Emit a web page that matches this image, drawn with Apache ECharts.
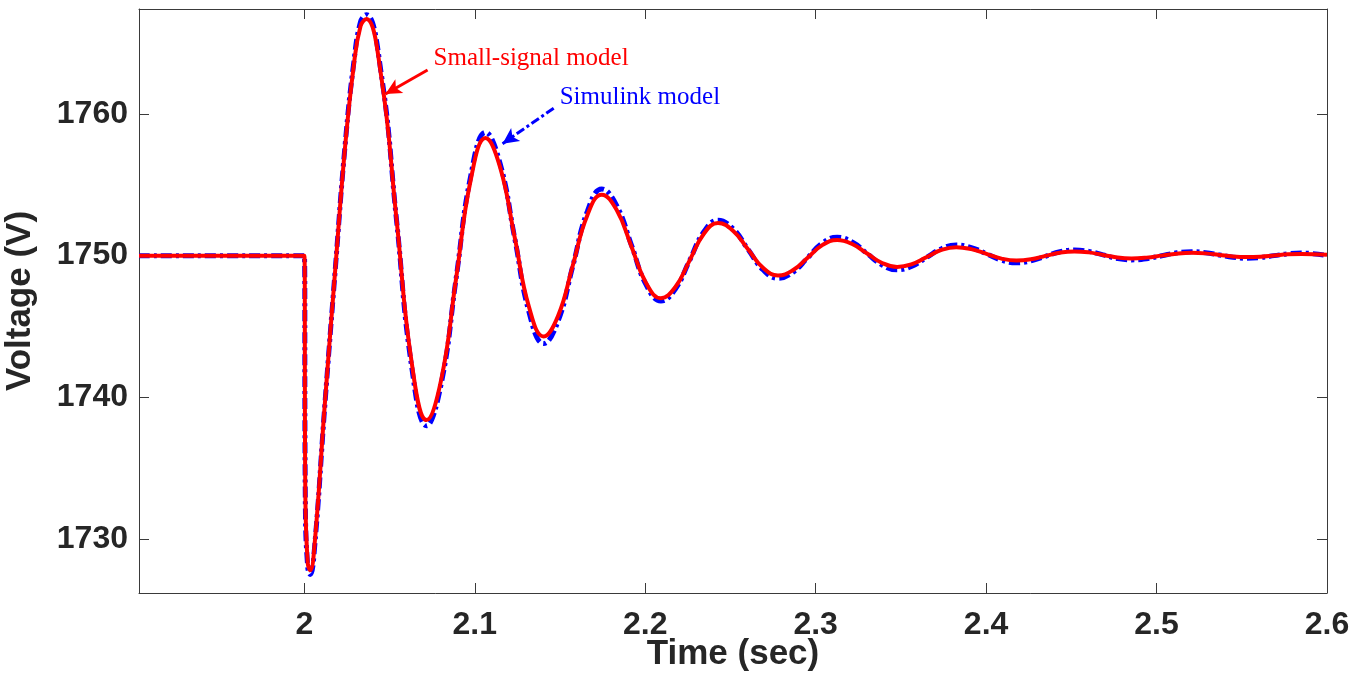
<!DOCTYPE html>
<html>
<head>
<meta charset="utf-8">
<script src="https://cdn.jsdelivr.net/npm/echarts@6/dist/echarts.min.js"></script>
<style>
html,body{margin:0;padding:0;background:#fff;}
#chart{width:1367px;height:675px;}
</style>
</head>
<body>
<div id="chart"></div>
<script>
// ---- data ----
const time = [
1.903, 2.0, 2.0006, 2.0020, 2.0035, 2.006, 2.012, 2.018, 2.024, 2.029, 2.033, 2.0364,
2.0452, 2.0541, 2.0629, 2.0717,
2.0804, 2.0890, 2.0977, 2.1063,
2.1148, 2.1234, 2.1319, 2.1404,
2.1489, 2.1575, 2.1660, 2.1745,
2.1832, 2.1919, 2.2005, 2.2092,
2.2176, 2.2260, 2.2343, 2.2427,
2.2515, 2.2603, 2.2691, 2.2779,
2.2866, 2.2953, 2.3039, 2.3126,
2.3214, 2.3302, 2.3390, 2.3478,
2.3565, 2.3652, 2.3738, 2.3825,
2.3913, 2.4002, 2.4090, 2.4178,
2.4263, 2.4348, 2.4433, 2.4518,
2.4602, 2.4686, 2.4769, 2.4853,
2.4941, 2.5030, 2.5118, 2.5206,
2.5287, 2.5368, 2.5449, 2.5530,
2.5610, 2.5690, 2.5770, 2.5850,
2.6
];
const smallSignal = [
1750, 1750, 1733.0, 1728.3, 1727.8, 1729.6, 1739.5, 1748.8, 1757.8, 1763.4, 1766.2, 1766.7,
1762.57, 1752.55, 1742.53, 1738.4,
1741.31, 1748.35, 1755.39, 1758.3,
1756.26, 1751.3, 1746.34, 1744.3,
1745.76, 1749.3, 1752.84, 1754.3,
1753.23, 1750.65, 1748.07, 1747.0,
1747.77, 1749.65, 1751.53, 1752.3,
1751.76, 1750.45, 1749.14, 1748.6,
1748.97, 1749.85, 1750.74, 1751.1,
1750.82, 1750.15, 1749.48, 1749.2,
1749.40, 1749.9, 1750.40, 1750.6,
1750.46, 1750.13, 1749.79, 1749.65,
1749.74, 1749.98, 1750.21, 1750.3,
1750.23, 1750.05, 1749.87, 1749.8,
1749.86, 1750.0, 1750.14, 1750.2,
1750.16, 1750.05, 1749.94, 1749.9,
1749.93, 1750.01, 1750.09, 1750.12,
1750.06
];
const simulink = [
1750, 1750, 1732.5, 1728.0, 1727.5, 1729.4, 1739.4, 1748.8, 1757.9, 1763.6, 1766.5, 1767.0,
1762.77, 1752.5, 1742.23, 1738.0,
1741.02, 1748.35, 1755.68, 1758.7,
1756.52, 1751.25, 1745.98, 1743.8,
1745.39, 1749.25, 1753.11, 1754.7,
1753.55, 1750.75, 1747.95, 1746.8,
1747.63, 1749.65, 1751.67, 1752.5,
1751.9, 1750.45, 1749.0, 1748.4,
1748.82, 1749.85, 1750.88, 1751.3,
1750.96, 1750.15, 1749.34, 1749.0,
1749.26, 1749.88, 1750.49, 1750.75,
1750.57, 1750.13, 1749.68, 1749.5,
1749.63, 1749.95, 1750.27, 1750.4,
1750.3, 1750.05, 1749.8, 1749.7,
1749.78, 1749.99, 1750.2, 1750.28,
1750.21, 1750.05, 1749.89, 1749.82,
1749.87, 1750.0, 1750.13, 1750.18,
1750.0
];
const xTicks = [2, 2.1, 2.2, 2.3, 2.4, 2.5, 2.6];
const yTicks = [1730, 1740, 1750, 1760];
const seriesNames = ['Small-signal model', 'Simulink model'];
const xRange = [1.903, 2.6];
const yRange = [1726.2, 1767.4];
// annotation anchors in data coordinates
const redArrow = [[2.0723, 1763.1], [2.0476, 1761.4]];
const blueArrow = [[2.1463, 1760.4], [2.1163, 1757.9]];
const redTextAt = [2.0758, 1763.9];
const blueTextAt = [2.1498, 1761.15];

// ---- chart ----
const pairs = (xs, ys) => xs.map((x, i) => [x, ys[i]]);
const axisColor = '#3a3a3a';
const labelFont = {fontFamily: '"Liberation Sans", Arial, Helvetica, sans-serif', fontWeight: 'bold', color: '#262626'};
const chart = echarts.init(document.getElementById('chart'), null, {renderer: 'canvas'});

const option = {
  animation: false,
  backgroundColor: '#ffffff',
  grid: {left: 139, right: 40, top: 9, bottom: 82, containLabel: false, outerBoundsMode: 'none'},
  xAxis: [{
    type: 'value', min: xRange[0], max: xRange[1], position: 'bottom',
    name: 'Time (sec)', nameLocation: 'middle', nameGap: 44, nameMoveOverlap: false,
    nameTextStyle: Object.assign({fontSize: 35}, labelFont),
    axisLine: {show: true, onZero: false, lineStyle: {color: axisColor, width: 1}},
    axisTick: {show: true, inside: true, length: 10, customValues: xTicks, lineStyle: {color: axisColor}},
    axisLabel: Object.assign({fontSize: 32, margin: 16, customValues: xTicks,
      formatter: v => String(+(+v).toFixed(2))}, labelFont),
    splitLine: {show: false}
  }, {
    type: 'value', min: xRange[0], max: xRange[1], position: 'top',
    axisLine: {show: true, onZero: false, lineStyle: {color: axisColor, width: 1}},
    axisTick: {show: true, inside: true, length: 10, customValues: xTicks, lineStyle: {color: axisColor}},
    axisLabel: {show: false},
    splitLine: {show: false}
  }],
  yAxis: [{
    type: 'value', min: yRange[0], max: yRange[1], position: 'left',
    name: 'Voltage (V)', nameLocation: 'middle', nameGap: 101, nameMoveOverlap: false,
    nameTextStyle: Object.assign({fontSize: 35}, labelFont),
    axisLine: {show: true, onZero: false, lineStyle: {color: axisColor, width: 1}},
    axisTick: {show: true, inside: true, length: 10, customValues: yTicks, lineStyle: {color: axisColor}},
    axisLabel: Object.assign({fontSize: 32, margin: 11, customValues: yTicks,
      formatter: v => String(Math.round(v))}, labelFont),
    splitLine: {show: false}
  }, {
    type: 'value', min: yRange[0], max: yRange[1], position: 'right',
    axisLine: {show: true, onZero: false, lineStyle: {color: axisColor, width: 1}},
    axisTick: {show: true, inside: true, length: 10, customValues: yTicks, lineStyle: {color: axisColor}},
    axisLabel: {show: false},
    splitLine: {show: false}
  }],
  series: [{
    name: seriesNames[1], type: 'line', xAxisIndex: 0, yAxisIndex: 0,
    data: pairs(time, simulink), smooth: 0.45, symbol: 'none', z: 2,
    lineStyle: {color: '#0000ff', width: 5, type: [11, 4, 3, 4]},
    markLine: {
      silent: true, symbol: ['none', 'arrow'], symbolSize: [12, 16],
      lineStyle: {color: '#0000ff', width: 3, type: [9, 3, 3, 3]},
      label: {show: false},
      data: [[{coord: blueArrow[0]}, {coord: blueArrow[1]}]]
    }
  }, {
    name: seriesNames[0], type: 'line', xAxisIndex: 0, yAxisIndex: 0,
    data: pairs(time, smallSignal), smooth: 0.45, symbol: 'none', z: 3,
    lineStyle: {color: '#ff0000', width: 4},
    markLine: {
      silent: true, symbol: ['none', 'arrow'], symbolSize: [12, 16],
      lineStyle: {color: '#ff0000', width: 3, type: 'solid'},
      label: {show: false},
      data: [[{coord: redArrow[0]}, {coord: redArrow[1]}]]
    }
  }]
};
chart.setOption(option);

const rp = chart.convertToPixel({xAxisIndex: 0, yAxisIndex: 0}, redTextAt);
const bp = chart.convertToPixel({xAxisIndex: 0, yAxisIndex: 0}, blueTextAt);
const serif = '"Liberation Serif", "Times New Roman", serif';
chart.setOption({
  graphic: [
    {type: 'text', x: rp[0], y: rp[1], z: 10,
     style: {text: seriesNames[0], fill: '#ff0000', font: '25px ' + serif, textAlign: 'left', textVerticalAlign: 'middle'}},
    {type: 'text', x: bp[0], y: bp[1], z: 10,
     style: {text: seriesNames[1], fill: '#0000ff', font: '25px ' + serif, textAlign: 'left', textVerticalAlign: 'middle'}}
  ]
});
</script>
</body>
</html>
